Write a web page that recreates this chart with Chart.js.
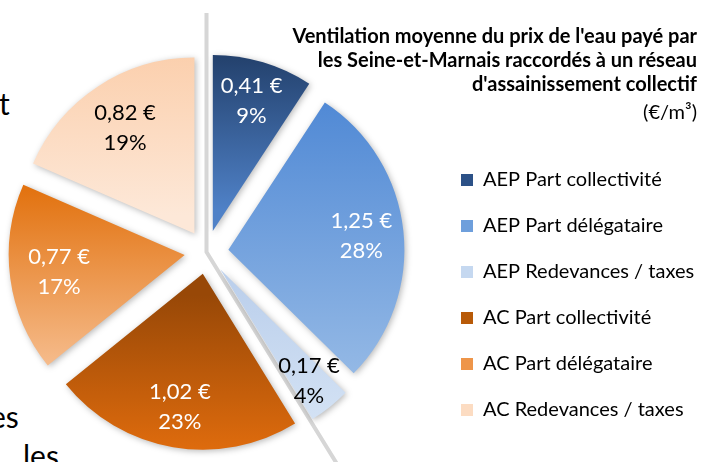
<!DOCTYPE html>
<html lang="fr">
<head>
<meta charset="utf-8">
<title>Ventilation moyenne du prix de l'eau</title>
<script src="https://cdn.jsdelivr.net/npm/chart.js@4.4.1/dist/chart.umd.min.js"></script>
<style>
  html, body { margin: 0; padding: 0; background: #fff; overflow: hidden; }
  body { width: 701px; height: 462px; position: relative; font-family: Lato, sans-serif; }
  #wrap { position: absolute; left: -22px; top: 0; }
  .bg-text { position: absolute; font-size: 30px; line-height: 30px; color: #000; white-space: nowrap; }
</style>
</head>
<body>
<!-- bouts de texte du document derrière le graphique -->
<span class="bg-text" style="left:-1px; top:88px">t</span>
<span class="bg-text" style="left:-10px; top:401px">es</span>
<span class="bg-text" style="left:23px; top:440px">les</span>

<div id="wrap"><canvas id="pieChart" width="723" height="462"></canvas></div>

<script>
// Données
const categories = [
  'AEP Part collectivité',
  'AEP Part délégataire',
  'AEP Redevances / taxes',
  'AC Part collectivité',
  'AC Part délégataire',
  'AC Redevances / taxes'
];
const prixM3 = [0.41, 1.25, 0.17, 1.02, 0.77, 0.82];
const parts = [9, 28, 4, 23, 17, 19];
const titleLines = [
  "Ventilation moyenne du prix de l'eau payé par",
  'les Seine-et-Marnais raccordés à un réseau',
  "d'assainissement collectif"
];
const subtitleText = '(€/m³)';

// Couleurs (dégradé haut -> bas pour chaque part)
const gradTop = ['#1d3860', '#5089d5', '#bcd0ec', '#984807', '#e2720f', '#fbcda9'];
const gradBottom = ['#4f81c7', '#93b8e5', '#d6e4f5', '#e8700e', '#f6bd8e', '#fde8d8'];
const legendColors = ['#2c5187', '#6e9fdc', '#c5d8f0', '#b85a08', '#ee9549', '#fcdcc2'];
const labelColors = ['#fff', '#fff', '#000', '#fff', '#fff', '#000'];
// distance des étiquettes au centre, en fraction du rayon
const labelRadius = [0.77, 0.76, 0.81, 0.77, 0.72, 0.72];

const OFFSET = 22;   // éclatement des parts (px)
const FONT = 'Lato, "Noto Sans", sans-serif';

const euro = v => v.toFixed(2).replace('.', ',') + ' €';

// dégradé vertical calé sur l'étendue de chaque part
function sliceGradient(c) {
  const chart = c.chart;
  const i = c.dataIndex;
  const area = chart.chartArea;
  const ctrl = chart.getDatasetMeta(0).controller;
  const R = ctrl && ctrl.outerRadius;
  if (!area || !R) return legendColors[i];

  const total = prixM3.reduce((a, b) => a + b, 0);
  const before = prixM3.slice(0, i).reduce((a, b) => a + b, 0);
  const a0 = -Math.PI / 2 + before / total * Math.PI * 2;
  const a1 = a0 + prixM3[i] / total * Math.PI * 2;
  const mid = (a0 + a1) / 2;
  const cx = (area.left + area.right) / 2 + Math.cos(mid) * OFFSET;
  const cy = (area.top + area.bottom) / 2 + Math.sin(mid) * OFFSET;

  const ys = [cy, cy + R * Math.sin(a0), cy + R * Math.sin(a1)];
  [-Math.PI / 2, Math.PI / 2, Math.PI * 1.5].forEach(t => {
    if (t > a0 && t < a1) ys.push(cy + R * Math.sin(t));
  });
  const g = chart.ctx.createLinearGradient(0, Math.min(...ys), 0, Math.max(...ys));
  g.addColorStop(0, gradTop[i]);
  g.addColorStop(1, gradBottom[i]);
  return g;
}

const pieExtras = {
  id: 'pieExtras',
  beforeDatasetDraw(chart, args) {
    const ctx = chart.ctx;
    const arcs = args.meta.data;
    if (!arcs.length) return;
    const first = arcs[0].getProps(['x', 'y', 'startAngle', 'outerRadius'], true);
    const last = arcs[2].getProps(['endAngle'], true);

    // traits de séparation eau potable / assainissement
    const up = first.outerRadius + OFFSET + 41;
    ctx.save();
    ctx.strokeStyle = '#d6d6d6';
    ctx.lineWidth = 4;
    ctx.beginPath();
    ctx.moveTo(first.x + Math.cos(first.startAngle) * up, first.y + Math.sin(first.startAngle) * up);
    ctx.lineTo(first.x, first.y);
    ctx.lineTo(first.x + Math.cos(last.endAngle) * 400, first.y + Math.sin(last.endAngle) * 400);
    ctx.stroke();
    ctx.restore();

    // parts éclatées, avec une ombre légère
    ctx.save();
    ctx.shadowColor = 'rgba(0,0,0,0.28)';
    ctx.shadowBlur = 6;
    ctx.shadowOffsetX = 1.5;
    ctx.shadowOffsetY = 1.5;
    arcs.forEach(arc => {
      const p = arc.getProps(['startAngle', 'endAngle'], true);
      const mid = (p.startAngle + p.endAngle) / 2;
      ctx.save();
      ctx.translate(Math.cos(mid) * OFFSET, Math.sin(mid) * OFFSET);
      arc.draw(ctx, chart.chartArea);
      ctx.restore();
    });
    ctx.restore();
    return false;
  },
  afterDatasetsDraw(chart) {
    const ctx = chart.ctx;
    // étiquettes valeur + pourcentage
    const arcs = chart.getDatasetMeta(0).data;
    ctx.save();
    ctx.font = '22px ' + FONT;
    ctx.textAlign = 'center';
    ctx.textBaseline = 'middle';
    arcs.forEach((arc, i) => {
      const p = arc.getProps(['x', 'y', 'startAngle', 'endAngle', 'outerRadius'], true);
      const mid = (p.startAngle + p.endAngle) / 2;
      const r = OFFSET + p.outerRadius * labelRadius[i];
      const x = p.x + Math.cos(mid) * r;
      const y = p.y + Math.sin(mid) * r;
      ctx.fillStyle = labelColors[i];
      ctx.fillText(euro(prixM3[i]), x, y - 15);
      ctx.fillText(parts[i] + '%', x, y + 15);
    });
    ctx.restore();
  }
};

const chart = new Chart(document.getElementById('pieChart'), {
  type: 'pie',
  data: {
    labels: categories,
    datasets: [{
      data: prixM3,
      backgroundColor: sliceGradient,
      borderWidth: 0,
      clip: false
    }]
  },
  options: {
    responsive: false,
    animation: false,
    events: [],
    radius: 176,
    layout: { padding: { top: 0, right: 4, bottom: 16, left: 0 } },
    plugins: {
      title: {
        display: true,
        text: titleLines,
        align: 'end',
        color: '#000',
        font: { family: FONT, size: 20, weight: 'bold', lineHeight: '24px' },
        padding: { top: 25, bottom: -39 }
      },
      subtitle: {
        display: true,
        text: subtitleText,
        align: 'end',
        color: '#000',
        font: { family: FONT, size: 20, lineHeight: '20px' },
        padding: { top: 45, bottom: -65 }
      },
      legend: {
        position: 'right',
        align: 'end',
        maxWidth: 262,
        labels: {
          boxWidth: 12,
          boxHeight: 12,
          padding: 26,
          color: '#262626',
          font: { family: FONT, size: 20 },
          generateLabels: () => categories.map((c, i) => ({
            text: c,
            fillStyle: legendColors[i],
            strokeStyle: legendColors[i],
            lineWidth: 0,
            hidden: false,
            index: i
          }))
        }
      },
      tooltip: { enabled: false }
    }
  },
  plugins: [pieExtras]
});
</script>
</body>
</html>
